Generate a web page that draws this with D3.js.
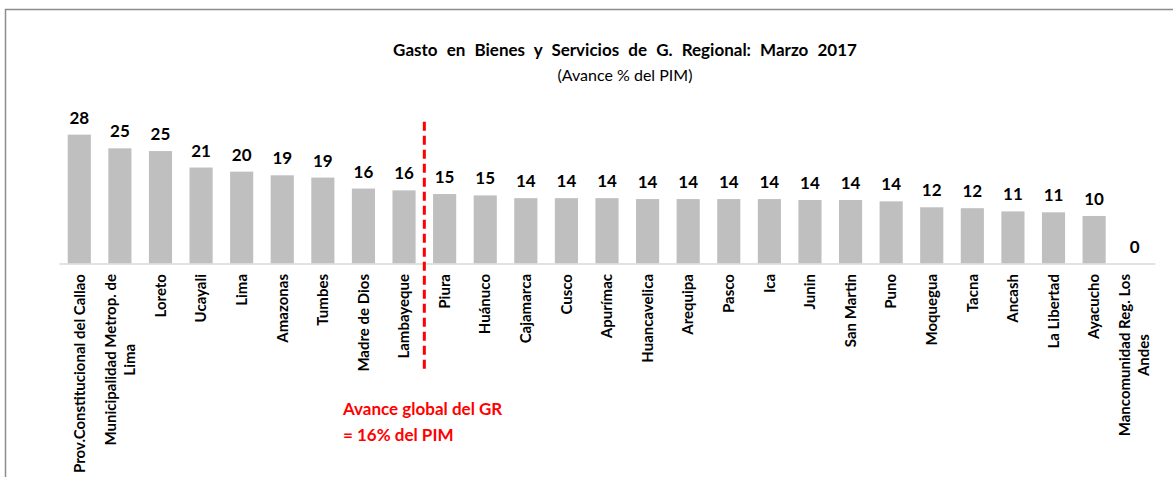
<!DOCTYPE html>
<html>
<head>
<meta charset="utf-8">
<script src="https://cdn.jsdelivr.net/npm/d3@7"></script>
<style>
  html, body { margin: 0; padding: 0; background: #fff; }
  svg { display: block; }
  text { font-family: Lato, "Open Sans", sans-serif; }
</style>
</head>
<body>
<svg id="chart" width="1173" height="477"></svg>
<script>
const categories = [
  "Prov.Constitucional del Callao",
  "Municipalidad Metrop. de\nLima",
  "Loreto", "Ucayali", "Lima", "Amazonas", "Tumbes", "Madre de Dios", "Lambayeque",
  "Piura", "Huánuco", "Cajamarca", "Cusco", "Apurímac", "Huancavelica", "Arequipa",
  "Pasco", "Ica", "Junin", "San Martin", "Puno", "Moquegua", "Tacna", "Ancash",
  "La Libertad", "Ayacucho", "Mancomunidad Reg. Los\nAndes"
];
const values = [
  28.2, 25.2, 24.6, 21.0, 20.1, 19.3, 18.8, 16.4, 16.0,
  15.2, 14.9, 14.3, 14.3, 14.3, 14.1, 14.1,
  14.1, 14.1, 13.9, 13.9, 13.6, 12.3, 12.1, 11.4,
  11.2, 10.4, 0
];
const titleText = "Gasto en Bienes y Servicios de G. Regional: Marzo 2017";
const subtitleText = "(Avance % del PIM)";
const noteLines = ["Avance global del GR", "= 16% del PIM"];
const splitAfter = "Lambayeque";

const data = categories.map((c, i) => ({ cat: c, value: values[i] }));

const svg = d3.select("#chart");
const W = 1173, H = 477;

// frame
svg.append("path")
  .attr("d", `M5.5,${H} L5.5,9.5 L${W},9.5`)
  .attr("fill", "none").attr("stroke", "#8c8c8c").attr("stroke-width", 1.5);

const x = d3.scaleBand().domain(categories).range([59, 1155])
  .paddingInner(0.43).paddingOuter(0.215);
const baseY = 263.5;
const y = d3.scaleLinear().domain([0, 30]).range([baseY, baseY - 137.1]);

// title
svg.append("text").attr("x", 625).attr("y", 56).attr("text-anchor", "middle")
  .attr("font-size", 17).attr("font-weight", "bold").attr("fill", "#000")
  .attr("word-spacing", 5)
  .text(titleText);
svg.append("text").attr("x", 625).attr("y", 81).attr("text-anchor", "middle")
  .attr("font-size", 16).attr("fill", "#000")
  .text(subtitleText);

// bars
svg.append("g").selectAll("rect").data(data).join("rect")
  .attr("x", d => x(d.cat)).attr("width", x.bandwidth())
  .attr("y", d => y(d.value)).attr("height", d => y(0) - y(d.value))
  .attr("fill", "#bfbfbf");

// baseline axis
const axisG = svg.append("g").attr("transform", `translate(0,${y(0)})`)
  .call(d3.axisBottom(x).tickSize(0).tickFormat(""));
axisG.select(".domain").attr("stroke", "#d9d9d9").attr("stroke-width", 1.5);

// value labels
svg.append("g").selectAll("text").data(data).join("text")
  .attr("x", d => x(d.cat) + x.bandwidth() / 2)
  .attr("y", d => y(d.value) - 11)
  .attr("text-anchor", "middle")
  .attr("font-size", 17).attr("font-weight", "bold").attr("fill", "#000")
  .text(d => d3.format(".0f")(d.value));

// category labels (rotated)
const labelTop = 274;
const lh = 19;
const catG = svg.append("g");
data.forEach(d => {
  const lines = d.cat.split("\n");
  const g = catG.append("g")
    .attr("transform", `translate(${x(d.cat) + x.bandwidth() / 2},${labelTop}) rotate(-90)`);
  const texts = lines.map((ln, i) => g.append("text")
    .attr("font-size", 15).attr("font-weight", "bold").attr("fill", "#000")
    .attr("y", (i - (lines.length - 1) / 2) * lh)
    .attr("dy", "0.35em")
    .text(ln));
  if (lines.length === 1) {
    texts[0].attr("text-anchor", "end").attr("x", 0);
  } else {
    const maxW = d3.max(texts, t => t.node().getComputedTextLength());
    texts.forEach(t => t.attr("text-anchor", "middle").attr("x", -maxW / 2));
  }
});

// red dashed separator
const iSplit = categories.indexOf(splitAfter);
const sepX = (x(categories[iSplit]) + x(categories[iSplit + 1]) + x.bandwidth()) / 2;
svg.append("line")
  .attr("x1", sepX).attr("x2", sepX)
  .attr("y1", y(31)).attr("y2", 372)
  .attr("stroke", "#ff0000").attr("stroke-width", 3)
  .attr("stroke-dasharray", "9,5");

// note
const note = svg.append("text").attr("font-size", 17).attr("font-weight", "bold")
  .attr("fill", "#ff0000");
noteLines.forEach((ln, i) => {
  note.append("tspan").attr("x", 343).attr("y", 415 + i * 26).text(ln);
});
</script>
</body>
</html>
